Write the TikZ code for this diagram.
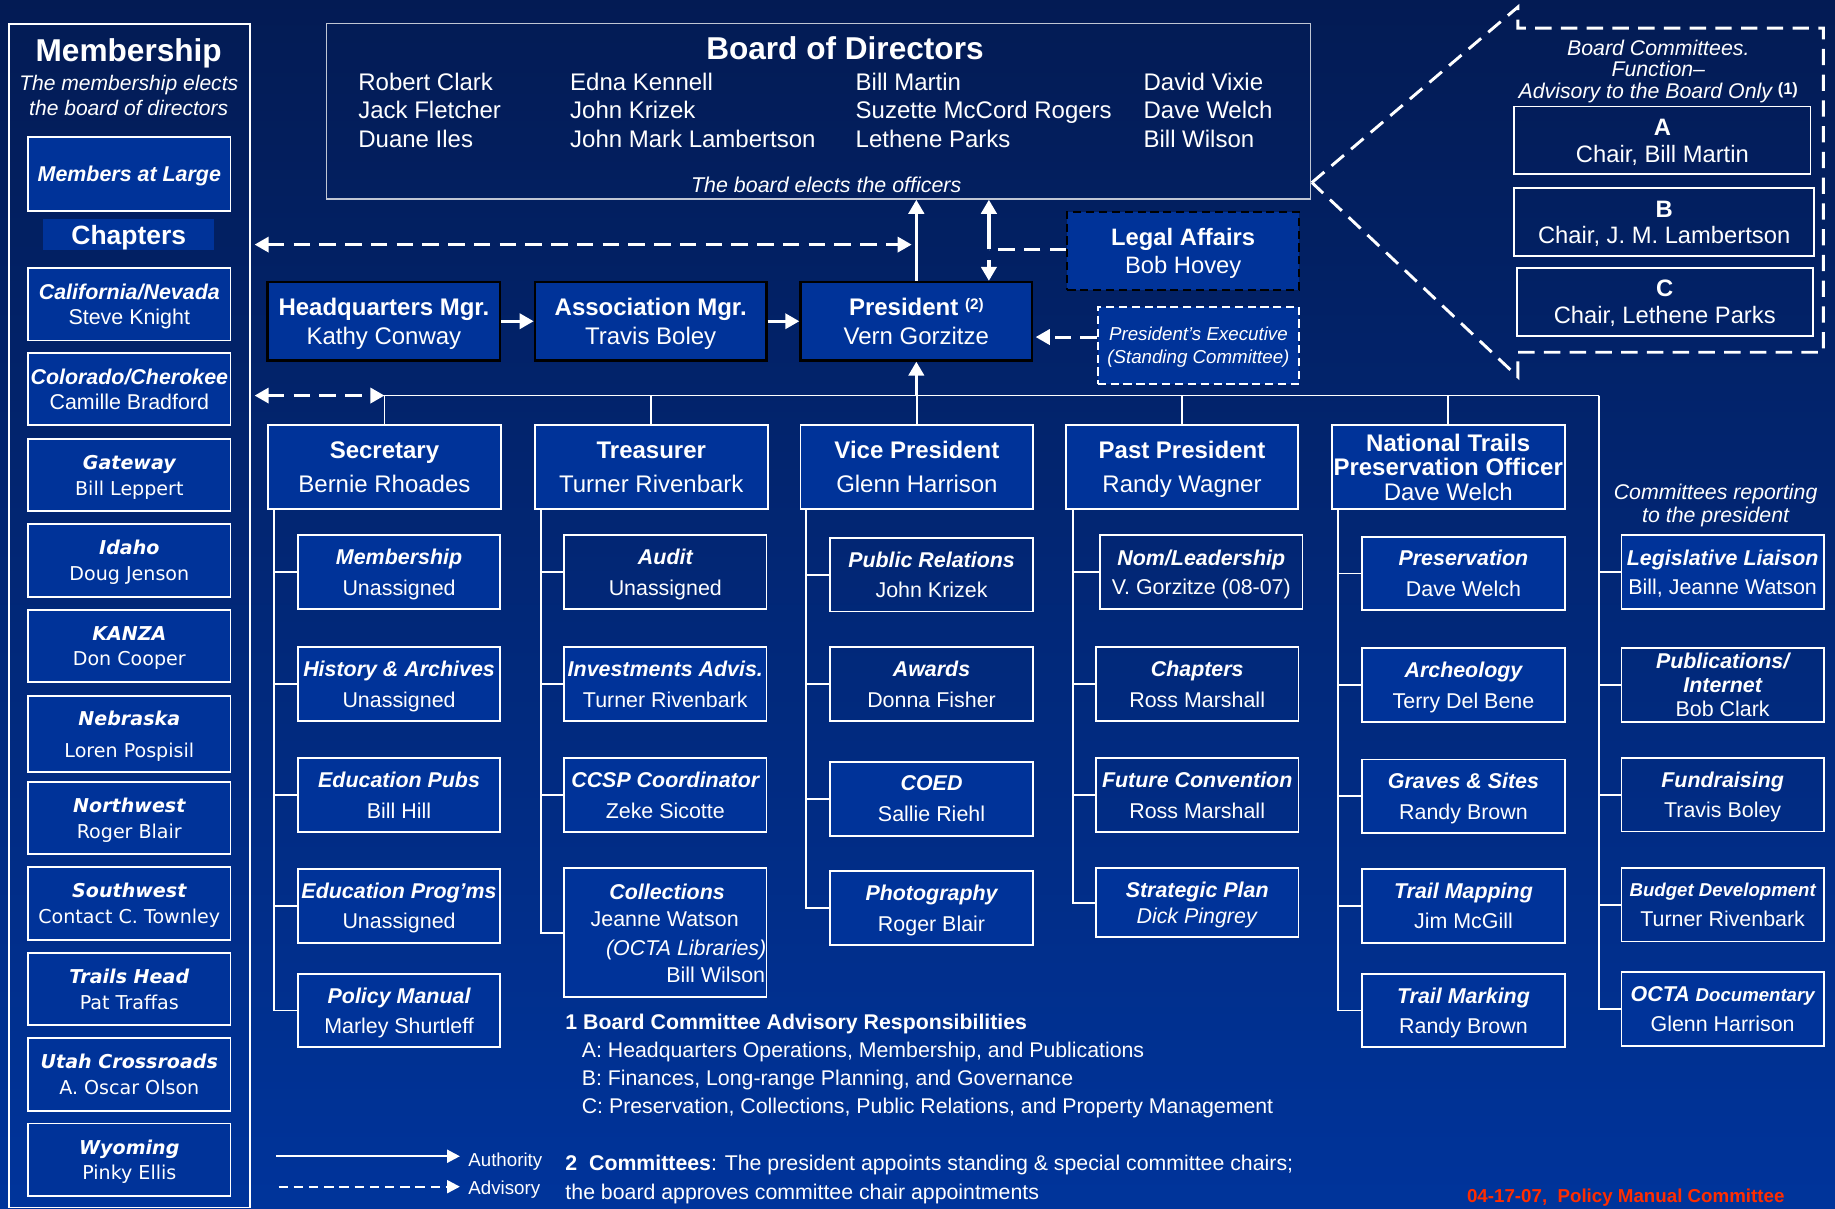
\documentclass[tikz,border=0pt]{standalone}
\usepackage{fontspec}
\setmainfont{Liberation Sans}
\newfontfamily\dejavu{DejaVu Sans}
\usetikzlibrary{arrows.meta}
\definecolor{bgtop}{RGB}{3,27,84}
\definecolor{bgbot}{RGB}{0,52,155}
\definecolor{boxblue}{RGB}{0,51,153}
\definecolor{redtxt}{RGB}{255,45,0}
\newcommand\fsz[2]{\fontsize{#1}{#2}\selectfont}
\newcommand\bxi[1]{{\bfseries\itshape #1}}
\begin{document}
\begin{tikzpicture}[x=1pt,y=-1pt,
  every node/.append style={text=white, inner sep=0pt, align=center, text depth=0pt},
  box/.style={draw=white, line width=1.6pt, fill=boxblue, text depth=-2pt},
  dk/.style={fill=none},
  blk/.style={draw=black, line width=2pt, fill=boxblue, minimum width=199pt, minimum height=67pt, font=\fsz{20.5}{25}, text depth=-2pt},
  off/.style={box, minimum width=199pt, minimum height=72pt, font=\fsz{20.5}{29}},
  sub/.style={box, minimum width=173pt, minimum height=63pt, font=\fsz{18.3}{26}},
  chap/.style={box, minimum width=173pt, minimum height=62pt, font=\fsz{18.3}{22}},
  chapv/.style={box, minimum width=173pt, minimum height=62pt, font={\dejavu\fsz{16.3}{22}}},
  bc/.style={draw=white, line width=1.6pt, minimum height=58pt, font=\fsz{20.3}{23}, text depth=-2pt},
  conn/.style={draw=white, line width=1.6pt},
  auth/.style={draw=white, line width=3pt, -{Triangle[length=12pt,width=13pt]}},
  adv/.style={draw=white, line width=2.5pt, dash pattern=on 14pt off 8pt},
  tip2/.style={{Triangle[length=12pt,width=13pt]}-{Triangle[length=12pt,width=13pt]}},
  tip1/.style={-{Triangle[length=12pt,width=13pt]}}
]
\useasboundingbox (0,0) rectangle (1568,1033);
\shade[top color=bgtop, bottom color=bgbot] (0,0) rectangle (1568,1033);

% ---------- Membership column ----------
\node[draw=white, line width=1.6pt, minimum width=206pt, minimum height=1011pt, anchor=north west] (memb) at (7,20) {};
\node[font=\fsz{27}{30}\bfseries] (membt) at (110,43) {Membership};
\node[font=\fsz{18}{21}\itshape] (membs) at (110,81.5) {The membership elects\\the board of directors};
\node[box, minimum width=173pt, minimum height=63pt, font=\fsz{18.3}{22}] (mal) at (110.5,148.5) {\bxi{Members at Large}};
\node[fill=boxblue, minimum width=146pt, minimum height=27pt, font=\fsz{22.6}{25}\bfseries] (chl) at (110,200.5) {Chapters};
\node[chap] (cal) at (110.5,260) {\bxi{California/Nevada}\\Steve Knight};
\node[chap] (col) at (110.5,332.5) {\bxi{Colorado/Cherokee}\\Camille Bradford};
\node[chapv] (gat) at (110.5,406) {\bxi{Gateway}\\Bill Leppert};
\node[chapv] (ida) at (110.5,479) {\bxi{Idaho}\\Doug Jenson};
\node[chapv] (kan) at (110.5,552) {\bxi{KANZA}\\Don Cooper};
\node[chapv, minimum height=65pt, font={\dejavu\fsz{16.3}{27}}] (neb) at (110.5,627.5) {\bxi{Nebraska}\\Loren Pospisil};
\node[chapv] (nw) at (110.5,699) {\bxi{Northwest}\\Roger Blair};
\node[chapv] (sw) at (110.5,772) {\bxi{Southwest}\\Contact C. Townley};
\node[chapv] (th) at (110.5,845) {\bxi{Trails Head}\\Pat Traffas};
\node[chapv] (ut) at (110.5,918) {\bxi{Utah Crossroads}\\A. Oscar Olson};
\node[chapv] (wy) at (110.5,991) {\bxi{Wyoming}\\Pinky Ellis};

% ---------- Board of Directors ----------
\node[draw=white!75!bgtop, line width=1.3pt, minimum width=841pt, minimum height=150pt] (board) at (699.5,95) {};
\node[font=\fsz{27}{30}\bfseries] (boardt) at (722,41) {Board of Directors};
\node[anchor=west, align=left, font=\fsz{20.5}{24.5}] (bn1) at (306,94) {Robert Clark\\Jack Fletcher\\Duane Iles};
\node[anchor=west, align=left, font=\fsz{20.5}{24.5}] (bn2) at (487,94) {Edna Kennell\\John Krizek\\John Mark Lambertson};
\node[anchor=west, align=left, font=\fsz{20.5}{24.5}] (bn3) at (731,94) {Bill Martin\\Suzette McCord Rogers\\Lethene Parks};
\node[anchor=west, align=left, font=\fsz{20.5}{24.5}] (bn4) at (977,94) {David Vixie\\Dave Welch\\Bill Wilson};
\node[font=\fsz{18.3}{20}\itshape] (boardf) at (706,158) {The board elects the officers};

% ---------- Board committees callout ----------
\coordinate (apex) at (1121,156);
\draw[adv] (apex) -- (1297,6) -- (1297,24) -- (1558,24) -- (1558,301) -- (1297,301) -- (1297,322) -- cycle;
\node[font=\fsz{18.2}{18.5}\itshape] (bct) at (1417,59) {Board Committees.\\Function--\\Advisory to the Board Only \raisebox{3pt}{\fsz{14}{14}\bfseries\upshape(1)}};
\node[bc, minimum width=253pt] (bca) at (1420.5,120) {\textbf{A}\\Chair, Bill Martin};
\node[bc, minimum width=256pt] (bcb) at (1422,190) {\textbf{B}\\Chair, J. M. Lambertson};
\node[bc, minimum width=253pt] (bcc) at (1422.5,258) {\textbf{C}\\Chair, Lethene Parks};

% ---------- Managers / President ----------
\node[blk] (hq) at (328,274.5) {\textbf{Headquarters Mgr.}\\Kathy Conway};
\node[blk, minimum width=198pt] (assoc) at (556,274.5) {\textbf{Association Mgr.}\\Travis Boley};
\node[blk, minimum width=198pt] (pres) at (783,274.5) {\textbf{President \raisebox{5pt}{\fsz{13}{13}(2)}}\\Vern Gorzitze};
\node[draw=black, line width=2pt, dash pattern=on 7pt off 4pt, fill=boxblue, minimum width=198pt, minimum height=67pt, font=\fsz{20.3}{24}, text depth=-2pt] (legal) at (1011,214.5) {\textbf{Legal Affairs}\\Bob Hovey};
\node[draw=white, line width=1.6pt, dash pattern=on 7pt off 4pt, fill=boxblue, minimum width=172pt, minimum height=66pt, font=\fsz{16}{20}\itshape, text depth=-1pt] (pexec) at (1024,295) {President’s Executive\\(Standing Committee)};

% ---------- Officers ----------
\node[off] (sec) at (328.5,399) {\textbf{Secretary}\\Bernie Rhoades};
\node[off] (tre) at (556.5,399) {\textbf{Treasurer}\\Turner Rivenbark};
\node[off] (vp) at (783.5,399) {\textbf{Vice President}\\Glenn Harrison};
\node[off, minimum width=198pt] (pp) at (1010,399) {\textbf{Past President}\\Randy Wagner};
\node[off, font=\fsz{20.5}{21}] (ntpo) at (1237.5,399) {\textbf{National Trails}\\\textbf{Preservation Officer}\\Dave Welch};

% ---------- Secretary committees ----------
\node[sub] (smem) at (341,489) {\bxi{Membership}\\Unassigned};
\node[sub] (shis) at (341,584.5) {\bxi{History \& Archives}\\Unassigned};
\node[sub] (sedp) at (341,679.5) {\bxi{Education Pubs}\\Bill Hill};
\node[sub] (sedg) at (341,774) {\bxi{Education Prog’ms}\\Unassigned};
\node[sub] (spol) at (341,863.5) {\bxi{Policy Manual}\\Marley Shurtleff};

% ---------- Treasurer committees ----------
\node[sub, dk] (tau) at (568.5,489) {\bxi{Audit}\\Unassigned};
\node[sub] (tinv) at (568.5,584.5) {\bxi{Investments Advis.}\\Turner Rivenbark};
\node[sub] (tccs) at (568.5,679.5) {\bxi{CCSP Coordinator}\\Zeke Sicotte};
\node[sub, minimum height=110pt] (coll) at (568.5,797) {};
\node[font=\fsz{18.3}{22}] (collt) at (570,762) {\bxi{Collections}};
\node[font=\fsz{18.3}{22}] (colln) at (568,785) {Jeanne Watson};
\node[anchor=east, font=\fsz{18.3}{22}\itshape] (collo) at (655,810) {(OCTA Libraries)};
\node[anchor=east, font=\fsz{18.3}{22}] (collb) at (654,833) {Bill Wilson};

% ---------- VP committees ----------
\node[sub, dk] (vpr) at (796,491) {\bxi{Public Relations}\\John Krizek};
\node[sub, dk] (vaw) at (796,584.5) {\bxi{Awards}\\Donna Fisher};
\node[sub] (vco) at (796,682.5) {\bxi{COED}\\Sallie Riehl};
\node[sub] (vph) at (796,776) {\bxi{Photography}\\Roger Blair};

% ---------- Past President committees ----------
\node[sub, dk, font=\fsz{18.3}{24}] (pnom) at (1026.5,489) {\bxi{Nom/Leadership}\\V. Gorzitze (08-07)};
\node[sub, dk] (pch) at (1023,584.5) {\bxi{Chapters}\\Ross Marshall};
\node[sub, dk] (pfu) at (1023,679.5) {\bxi{Future Convention}\\Ross Marshall};
\node[sub, minimum height=59pt, font=\fsz{18.3}{22}] (pst) at (1023,771.5) {\bxi{Strategic Plan}\\\textit{Dick Pingrey}};

% ---------- NTPO committees ----------
\node[sub] (npr) at (1250.5,490) {\bxi{Preservation}\\Dave Welch};
\node[sub] (nar) at (1250.5,585.5) {\bxi{Archeology}\\Terry Del Bene};
\node[sub] (ngr) at (1250.5,680.5) {\bxi{Graves \& Sites}\\Randy Brown};
\node[sub] (ntm) at (1250.5,774) {\bxi{Trail Mapping}\\Jim McGill};
\node[sub] (ntk) at (1250.5,863.5) {\bxi{Trail Marking}\\Randy Brown};

% ---------- Committees reporting to the president ----------
\node[font=\fsz{18.2}{19}\itshape] (crp) at (1466,430) {Committees reporting\\to the president};
\node[sub, font=\fsz{18.3}{25}] (rleg) at (1472,489) {\bxi{Legislative Liaison}\\Bill, Jeanne Watson};
\node[sub, dk, font=\fsz{18.3}{20.5}] (rpub) at (1472,585.5) {\bxi{Publications/}\\\bxi{Internet}\\Bob Clark};
\node[sub, dk, font=\fsz{18.3}{25}] (rfun) at (1472,679) {\bxi{Fundraising}\\Travis Boley};
\node[sub, dk, font=\fsz{18.3}{25}] (rbud) at (1472,773) {\bxi{\fsz{15.9}{25}Budget Development}\\Turner Rivenbark};
\node[sub] (roc) at (1472,862) {\bxi{OCTA {\fsz{15.9}{26}Documentary}}\\Glenn Harrison};

% ---------- Connectors ----------
\coordinate (busL) at (328.5,338);
\coordinate (busR) at (1366,338);
\draw[conn] (busL) -- (busR);
\draw[conn] (busL) -- (sec.north);
\draw[conn] (tre.north) -- (tre.north |- busL);
\draw[conn] (vp.north) -- (vp.north |- busL);
\draw[conn] (pp.north) -- (pp.north |- busL);
\draw[conn] (ntpo.north) -- (ntpo.north |- busL);
\draw[auth] (pres.south |- busL) -- (pres.south);

\coordinate (secT) at (234,435);
\foreach \n in {smem,shis,sedp,sedg,spol} \draw[conn] (secT) |- (\n.west);
\coordinate (treT) at (462,435);
\foreach \n in {tau,tinv,tccs,coll} \draw[conn] (treT) |- (\n.west);
\coordinate (vpT) at (689,435);
\foreach \n in {vpr,vaw,vco,vph} \draw[conn] (vpT) |- (\n.west);
\coordinate (ppT) at (917,435);
\foreach \n in {pnom,pch,pfu,pst} \draw[conn] (ppT) |- (\n.west);
\coordinate (nT) at (1143,435);
\foreach \n in {npr,nar,ngr,ntm,ntk} \draw[conn] (nT) |- (\n.west);
\foreach \n in {rleg,rpub,rfun,rbud,roc} \draw[conn] (busR) |- (\n.west);

\draw[auth, line width=2.5pt] (hq.east) -- (assoc.west);
\draw[auth, line width=2.5pt] (assoc.east) -- (pres.west);
\draw[auth] (pres.north) -- (pres.north |- board.south);

\coordinate (lgA) at (845,213);
\coordinate (lgB) at (845,222);
\draw[adv] (lgA -| legal.west) -- (lgA);
\draw[auth] (lgA) -- (lgA |- board.south);
\draw[auth] (lgB) -- (lgB |- pres.north);

\coordinate (tA) at (779,209);
\draw[adv, tip2] ([xshift=3pt]memb.east |- tA) -- (tA);
\draw[adv, tip2] ([xshift=3pt]memb.east |- busL) -- (busL);
\draw[adv, tip1] ([yshift=7pt]pexec.west) -- ([yshift=7pt,xshift=2pt]pexec.west -| pres.east);

% ---------- Legend and notes ----------
\coordinate (la1) at (236,988); \coordinate (la2) at (393,988);
\draw[white, line width=2pt, -{Triangle[length=11pt,width=11pt]}] (la1) -- (la2);
\coordinate (lb1) at (238,1014); \coordinate (lb2) at (393,1014);
\draw[white, line width=2pt, dash pattern=on 8pt off 5pt, -{Triangle[length=11pt,width=11pt]}] (lb1) -- (lb2);
\node[anchor=west, font=\fsz{16}{18}] (lga) at (400,991) {Authority};
\node[anchor=west, font=\fsz{16}{18}] (lgd) at (400,1014.5) {Advisory};

\node[anchor=west, font=\fsz{18.2}{20}\bfseries] (n1) at (483,873) {1 Board Committee Advisory Responsibilities};
\node[anchor=west, font=\fsz{18.2}{20}] (n1a) at (497,897) {A: Headquarters Operations, Membership, and Publications};
\node[anchor=west, font=\fsz{18.2}{20}] (n1b) at (497,921) {B: Finances, Long-range Planning, and Governance};
\node[anchor=west, font=\fsz{18.2}{20}] (n1c) at (497,945) {C: Preservation, Collections, Public Relations, and Property Management};
\node[anchor=west, font=\fsz{18.2}{20}] (n2) at (483,994) {\textbf{2\ \ Committees}: The president appoints standing \& special committee chairs;};
\node[anchor=west, font=\fsz{18.2}{20}] (n2b) at (483,1018) {the board approves committee chair appointments};
\node[anchor=east, text=redtxt, font=\fsz{16}{18}\bfseries] (date) at (1525,1022) {04-17-07,\ \ Policy Manual Committee};
\end{tikzpicture}
\end{document}
